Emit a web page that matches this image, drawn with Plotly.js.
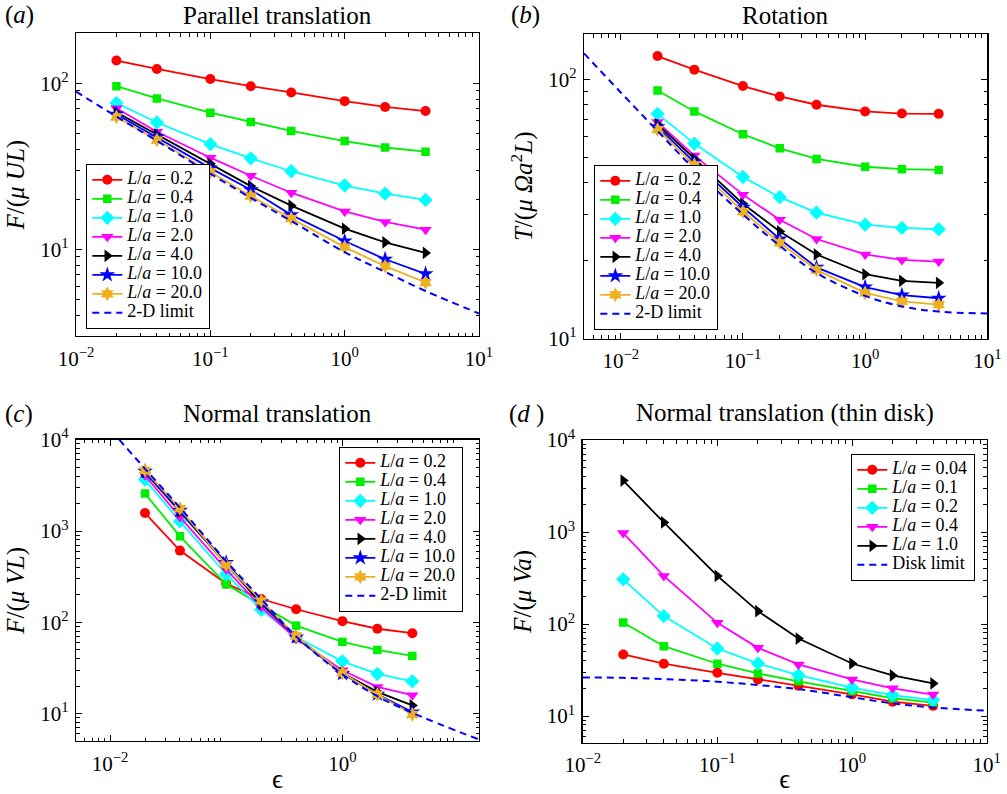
<!DOCTYPE html>
<html>
<head>
<meta charset="utf-8">
<script src="https://cdn.plot.ly/plotly-3.0.1.min.js"></script>
<style>html,body{margin:0;padding:0;background:#fff;}</style>
</head>
<body>
<div id="chart" style="width:1007px;height:794px;"></div>
<script>
// ---------- data ----------
const eps = [0.02, 0.04, 0.1, 0.2, 0.4, 1, 2, 4];

const labelsABC = ['0.2', '0.4', '1.0', '2.0', '4.0', '10.0', '20.0'];
const labelsD = ['0.04', '0.1', '0.2', '0.4', '1.0'];

// (a) Parallel translation, F/(muUL)
const a_02  = [137, 122, 106, 96, 88, 78, 72, 68];
const a_04  = [96, 81, 66.5, 58.5, 51.6, 44.8, 41, 38.7];
const a_10  = [76, 58, 43, 35.3, 29.5, 24.2, 21.6, 19.8];
const a_20  = [70.6, 51, 35.6, 27.7, 21.9, 16.9, 14.6, 13.1];
const a_40  = [66.8, 49, 32.7, 24, 18.3, 13.3, 11.0, 9.5];
const a_100 = [65, 47.3, 30.8, 22.8, 16.1, 11.2, 8.7, 7.1];
const a_200 = [62.7, 45.5, 29.2, 20.9, 15.3, 10.3, 7.9, 6.3];
const aLimX = [0.01, 0.02, 0.04, 0.1, 0.2, 0.4, 1, 2, 4, 10];
const aLimY = [89, 63, 45, 28.5, 20.4, 14.8, 9.6, 7.3, 5.6, 4.1];

// (b) Rotation, T/(mu Omega a^2 L)
const b_02  = [123, 109, 94.2, 85.9, 79.8, 75.2, 73.8, 73.6];
const b_04  = [90.6, 75.2, 61.4, 54.2, 49.3, 46.0, 45.0, 44.7];
const b_10  = [73.6, 56.5, 42, 35.1, 30.6, 27.5, 26.7, 26.4];
const b_20  = [68.4, 50.8, 35.9, 28.7, 24.2, 21.1, 20.1, 19.8];
const b_40  = [67.1, 49.3, 33.1, 25.9, 21.1, 17.7, 16.7, 16.4];
const b_100 = [65.6, 47.9, 32.1, 24.2, 18.8, 15.8, 14.7, 14.3];
const b_200 = [64.0, 46.8, 30.9, 23.4, 18.4, 15.0, 13.9, 13.5];
const bLimX = [0.005, 0.01, 0.02, 0.04, 0.1, 0.2, 0.4, 1, 2, 4, 10];
const bLimY = [126, 89, 63.2, 45, 30.1, 22.8, 17.9, 14.6, 13.3, 12.7, 12.5];

// (c) Normal translation, F/(muVL)
const c_02  = [1574, 610, 265, 180, 139, 103, 85, 76];
const c_04  = [2570, 875, 261, 155, 92, 61, 49.8, 42.8];
const c_10  = [3650, 1275, 336, 137, 69, 37.4, 27.2, 22.6];
const c_20  = [4070, 1420, 380, 147, 66, 29.8, 19.6, 15.9];
const c_40  = [4420, 1615, 438, 160, 69, 27.9, 17.3, 12.3];
const c_100 = [4500, 1680, 450, 167, 69, 27.4, 16.3, 10.4];
const c_200 = [4620, 1760, 425, 172, 70.8, 27.9, 16.2, 9.8];
const cLimX = [0.012, 0.02, 0.04, 0.1, 0.2, 0.4, 1, 2, 4, 15];
const cLimY = [10000, 4800, 1800, 468, 180, 70, 27, 15.5, 10.2, 5.2];

// (d) Normal translation (thin disk), F/(muVa)
const d_004 = [46.7, 37, 29.5, 25, 21.3, 17.2, 14.3, 12.9];
const d_01  = [104, 57.4, 37, 29, 23.8, 18.7, 15.6, 14.0];
const d_02  = [306, 122, 54.2, 37.3, 27.8, 20.3, 16.9, 14.9];
const d_04  = [973, 333, 103, 55.1, 36.4, 25, 20, 17.1];
const d_10  = [3620, 1270, 333, 138, 69.5, 37.2, 27.6, 22.6];
const dLimX = [0.01, 0.02, 0.04, 0.1, 0.2, 0.4, 1, 2, 4, 10];
const dLimY = [26.3, 26, 25.2, 23.6, 21.7, 19.6, 16, 13.7, 12.4, 11.4];

// ---------- styles ----------
const FONT = 'Liberation Serif, Times New Roman, serif';
const styles = [
  {color: '#ff0000', symbol: 'circle', size: 10},
  {color: '#00ee00', symbol: 'square', size: 8.5},
  {color: '#00ffff', symbol: 'diamond', size: 11},
  {color: '#ff00ff', symbol: 'triangle-down', size: 11},
  {color: '#000000', symbol: 'triangle-right', size: 11},
  {color: '#0000ff', symbol: 'star', size: 12},
  {color: '#edb120', symbol: 'hexagram', size: 11}
];
const stylesD = [styles[0], styles[1], styles[2], styles[3], styles[4]];

function legText(v) {
  return '<span style="font-size:18px"><i>L</i>/<i>a</i> = ' + v + '</span>';
}

const traces = [];
function addSeries(seriesList, labels, sty, xa, ya, leg) {
  seriesList.forEach((ys, i) => {
    traces.push({
      x: eps, y: ys, xaxis: xa, yaxis: ya, legend: leg,
      type: 'scatter', mode: 'lines+markers', name: legText(labels[i]),
      line: {color: sty[i].color, width: 1.8},
      marker: {color: sty[i].color, symbol: sty[i].symbol, size: sty[i].size, line: {width: 0}}
    });
  });
}
function addLimit(xs, ys, name, xa, ya, leg) {
  traces.push({
    x: xs, y: ys, xaxis: xa, yaxis: ya, legend: leg,
    type: 'scatter', mode: 'lines', name: '<span style="font-size:18px">' + name + '</span>',
    line: {color: '#0000ff', width: 2, dash: '7px,5px', shape: 'spline', smoothing: 1}
  });
}

addSeries([a_02, a_04, a_10, a_20, a_40, a_100, a_200], labelsABC, styles, 'x', 'y', 'legend');
addLimit(aLimX, aLimY, '2-D limit', 'x', 'y', 'legend');
addSeries([b_02, b_04, b_10, b_20, b_40, b_100, b_200], labelsABC, styles, 'x2', 'y2', 'legend2');
addLimit(bLimX, bLimY, '2-D limit', 'x2', 'y2', 'legend2');
addSeries([c_02, c_04, c_10, c_20, c_40, c_100, c_200], labelsABC, styles, 'x3', 'y3', 'legend3');
addLimit(cLimX, cLimY, '2-D limit', 'x3', 'y3', 'legend3');
addSeries([d_004, d_01, d_02, d_04, d_10], labelsD, stylesD, 'x4', 'y4', 'legend4');
addLimit(dLimX, dLimY, 'Disk limit', 'x4', 'y4', 'legend4');

// ---------- axes ----------
function pow10(e) {
  return '10<sup>' + (e < 0 ? '\u2212' + (-e) : e) + '</sup>';
}
function minorVals(lo, hi) {
  const out = [];
  for (let e = lo; e <= hi; e++) for (let m = 2; m <= 9; m++) out.push(m * Math.pow(10, e));
  return out;
}
function axis(range, domain, anchor, exps, minorLo, minorHi, titleText, standoff, isX) {
  const a = {
    type: 'log', range: range, domain: domain, anchor: anchor,
    showline: true, linecolor: '#000', linewidth: 1.3, mirror: 'allticks',
    ticks: 'inside', ticklen: 6, tickwidth: 1, tickcolor: '#000',
    tickmode: 'array', tickvals: exps.map(e => Math.pow(10, e)), ticktext: exps.map(pow10),
    tickfont: {family: FONT, size: 21, color: '#000'},
    ticklabelstandoff: isX ? 3 : 2,
    showgrid: false, zeroline: false,
    minor: {tickmode: 'array', tickvals: minorVals(minorLo, minorHi), ticks: 'inside', ticklen: 3.5, tickwidth: 1, tickcolor: '#000', showgrid: false}
  };
  if (titleText) a.title = {text: titleText, font: {family: FONT, size: isX ? 27 : 25, color: '#000'}, standoff: standoff};
  return a;
}

const W = 1007, H = 794;
const dx = (p0, p1) => [p0 / W, p1 / W];
const dy = (top, bottom) => [1 - bottom / H, 1 - top / H];

const layout = {
  width: W, height: H,
  margin: {l: 0, r: 0, t: 0, b: 0},
  paper_bgcolor: '#fff', plot_bgcolor: '#fff',
  font: {family: FONT, color: '#000'},
  showlegend: true,
  xaxis:  axis([-2, 1], dx(76, 479), 'y', [-2, -1, 0, 1], -3, 1, null, 0, true),
  yaxis:  axis([0.477, 2.301], dy(33.3, 336), 'x', [1, 2], 0, 2,
               '<i>F</i>/(<i>\u03bc UL</i>)', 8),
  xaxis2: axis([-2.301, 1], dx(584, 987.3), 'y2', [-2, -1, 0, 1], -3, 1, null, 0, true),
  yaxis2: axis([1, 2.175], dy(34, 338.5), 'x2', [1, 2], 1, 2,
               '<i>T</i>/(<i>\u03bc \u03a9a</i><sup>2</sup><i>L</i>)', 8),
  xaxis3: axis([-2.293, 1.176], dx(76, 479), 'y3', [-2, 0], -3, 1, '\u03f5', 0, true),
  yaxis3: axis([0.70, 4], dy(439.7, 741), 'x3', [1, 2, 3, 4], 0, 3,
               '<i>F</i>/(<i>\u03bc VL</i>)', 8),
  xaxis4: axis([-2, 1], dx(582.7, 986.7), 'y4', [-2, -1, 0, 1], -3, 1, '\u03f5', 0, true),
  yaxis4: axis([0.71, 4], dy(440, 742.7), 'x4', [1, 2, 3, 4], 0, 3,
               '<i>F</i>/(<i>\u03bc Va</i>)', 8),
  legend:  {x: 86 / W, y: 1 - 329 / H, xanchor: 'left', yanchor: 'bottom'},
  legend2: {x: 594 / W, y: 1 - 330 / H, xanchor: 'left', yanchor: 'bottom'},
  legend3: {x: 463 / W, y: 1 - 447 / H, xanchor: 'right', yanchor: 'top'},
  legend4: {x: 975 / W, y: 1 - 454 / H, xanchor: 'right', yanchor: 'top'},
  annotations: []
};
['legend', 'legend2', 'legend3', 'legend4'].forEach(k => {
  Object.assign(layout[k], {
    xref: 'paper', yref: 'paper',
    bgcolor: '#fff', bordercolor: '#000', borderwidth: 1.3,
    font: {family: FONT, size: 12, color: '#000'},
    tracegroupgap: 0, itemclick: false
  });
});

function ann(text, x, y, size, anchor) {
  layout.annotations.push({
    text: text, x: x / W, y: 1 - y / H, xref: 'paper', yref: 'paper',
    xanchor: anchor || 'center', yanchor: 'middle', showarrow: false,
    font: {family: FONT, size: size, color: '#000'}
  });
}
ann('(<i>a</i>)', 3, 15, 25, 'left');
ann('(<i>b</i>)', 509, 15, 25, 'left');
ann('(<i>c</i>)', 3, 414, 25, 'left');
ann('(<i>d</i> )', 507, 414, 25, 'left');
ann('Parallel translation', 277, 15, 25);
ann('Rotation', 785, 15, 25);
ann('Normal translation', 277, 413, 25);
ann('Normal translation (thin disk)', 785, 413, 25);

Plotly.newPlot('chart', traces, layout, {displayModeBar: false, staticPlot: true});
</script>
</body>
</html>
